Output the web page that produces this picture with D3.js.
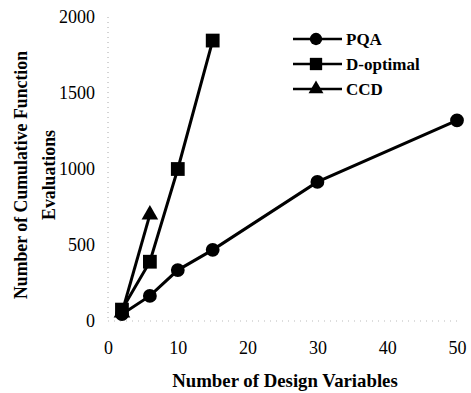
<!DOCTYPE html>
<html><head><meta charset="utf-8">
<script src="https://cdn.jsdelivr.net/npm/d3@7"></script>
<style>body{margin:0;background:#fff}svg{display:block}
svg text{font-family:"Liberation Serif","Times New Roman",Times,serif;}</style>
</head><body>
<svg id="c" width="471" height="393"></svg>
<script>
const seriesNames = ["PQA", "D-optimal", "CCD"];
const pqaX = [2, 6, 10, 15, 30, 50];
const pqaY = [45, 165, 335, 468, 915, 1320];
const dOptX = [2, 6, 10, 15];
const dOptY = [75, 390, 1000, 1845];
const ccdX = [2, 6];
const ccdY = [55, 700];
const xTicks = [0, 10, 20, 30, 40, 50];
const yTicks = [0, 500, 1000, 1500, 2000];

const svg = d3.select("#c");
const x = d3.scaleLinear().domain([0, 50]).range([108, 457]);
const y = d3.scaleLinear().domain([0, 2000]).range([321, 17]);

// faint axes
svg.append("line").attr("x1", x(0)).attr("x2", x(0)).attr("y1", y(2000)).attr("y2", y(0))
  .attr("stroke", "#aaa").attr("stroke-width", 1).attr("stroke-dasharray", "1,4");
svg.append("line").attr("x1", x(0)).attr("x2", x(50)).attr("y1", y(0)).attr("y2", y(0))
  .attr("stroke", "#bbb").attr("stroke-width", 1).attr("stroke-dasharray", "1,5");

const yAxis = d3.axisLeft(y).tickValues(yTicks).tickFormat(d3.format("d")).tickSize(0).tickPadding(13);
const gy = svg.append("g").attr("transform", `translate(${x(0)},0)`).call(yAxis);
gy.attr("font-family", null).attr("font-size", null);
gy.select(".domain").remove();
gy.selectAll("text").attr("font-size", 18).attr("fill", "#000");

const xAxis = d3.axisBottom(x).tickValues(xTicks).tickFormat(d3.format("d")).tickSize(0).tickPadding(20);
const gx = svg.append("g").attr("transform", `translate(0,${y(0)})`).call(xAxis);
gx.attr("font-family", null).attr("font-size", null);
gx.select(".domain").remove();
gx.selectAll("text").attr("font-size", 18).attr("fill", "#000");

const line = d3.line().x(d => x(d[0])).y(d => y(d[1]));
const data = [
  {name: seriesNames[0], pts: d3.zip(pqaX, pqaY), sym: d3.symbolCircle, size: 150},
  {name: seriesNames[1], pts: d3.zip(dOptX, dOptY), sym: d3.symbolSquare, size: 190},
  {name: seriesNames[2], pts: d3.zip(ccdX, ccdY), sym: d3.symbolTriangle, size: 120}
];
[data[0], data[2], data[1]].forEach(s => {
  svg.append("path").attr("d", line(s.pts)).attr("fill", "none").attr("stroke", "#000").attr("stroke-width", 3);
});
[data[0], data[2], data[1]].forEach(s => {
  svg.selectAll(null).data(s.pts).enter().append("path")
    .attr("d", d3.symbol().type(s.sym).size(s.size))
    .attr("transform", d => `translate(${x(d[0])},${y(d[1])})`)
    .attr("fill", "#000");
});

// legend
const lg = svg.append("g");
data.forEach((s, i) => {
  const cy = 39 + i * 25;
  lg.append("line").attr("x1", 293).attr("x2", 342).attr("y1", cy).attr("y2", cy).attr("stroke", "#000").attr("stroke-width", 2.5);
  lg.append("path").attr("d", d3.symbol().type(s.sym).size(s.size * 0.8)).attr("transform", `translate(316,${cy})`).attr("fill", "#000");
  lg.append("text").attr("x", 346).attr("y", cy).attr("dy", "0.35em")
    .attr("font-weight", "bold").attr("font-size", 17).text(s.name);
});

// titles
svg.append("text").attr("x", 285).attr("y", 387).attr("text-anchor", "middle")
  .attr("font-weight", "bold").attr("font-size", 18.8)
  .text("Number of Design Variables");
const yt = svg.append("text").attr("transform", "translate(0,175) rotate(-90)")
  .attr("text-anchor", "middle").attr("font-weight", "bold").attr("font-size", 17.8);
yt.append("tspan").attr("x", 0).attr("y", 27).text("Number of Cumulative Function");
yt.append("tspan").attr("x", 0).attr("y", 55).text("Evaluations");
</script>
</body></html>
